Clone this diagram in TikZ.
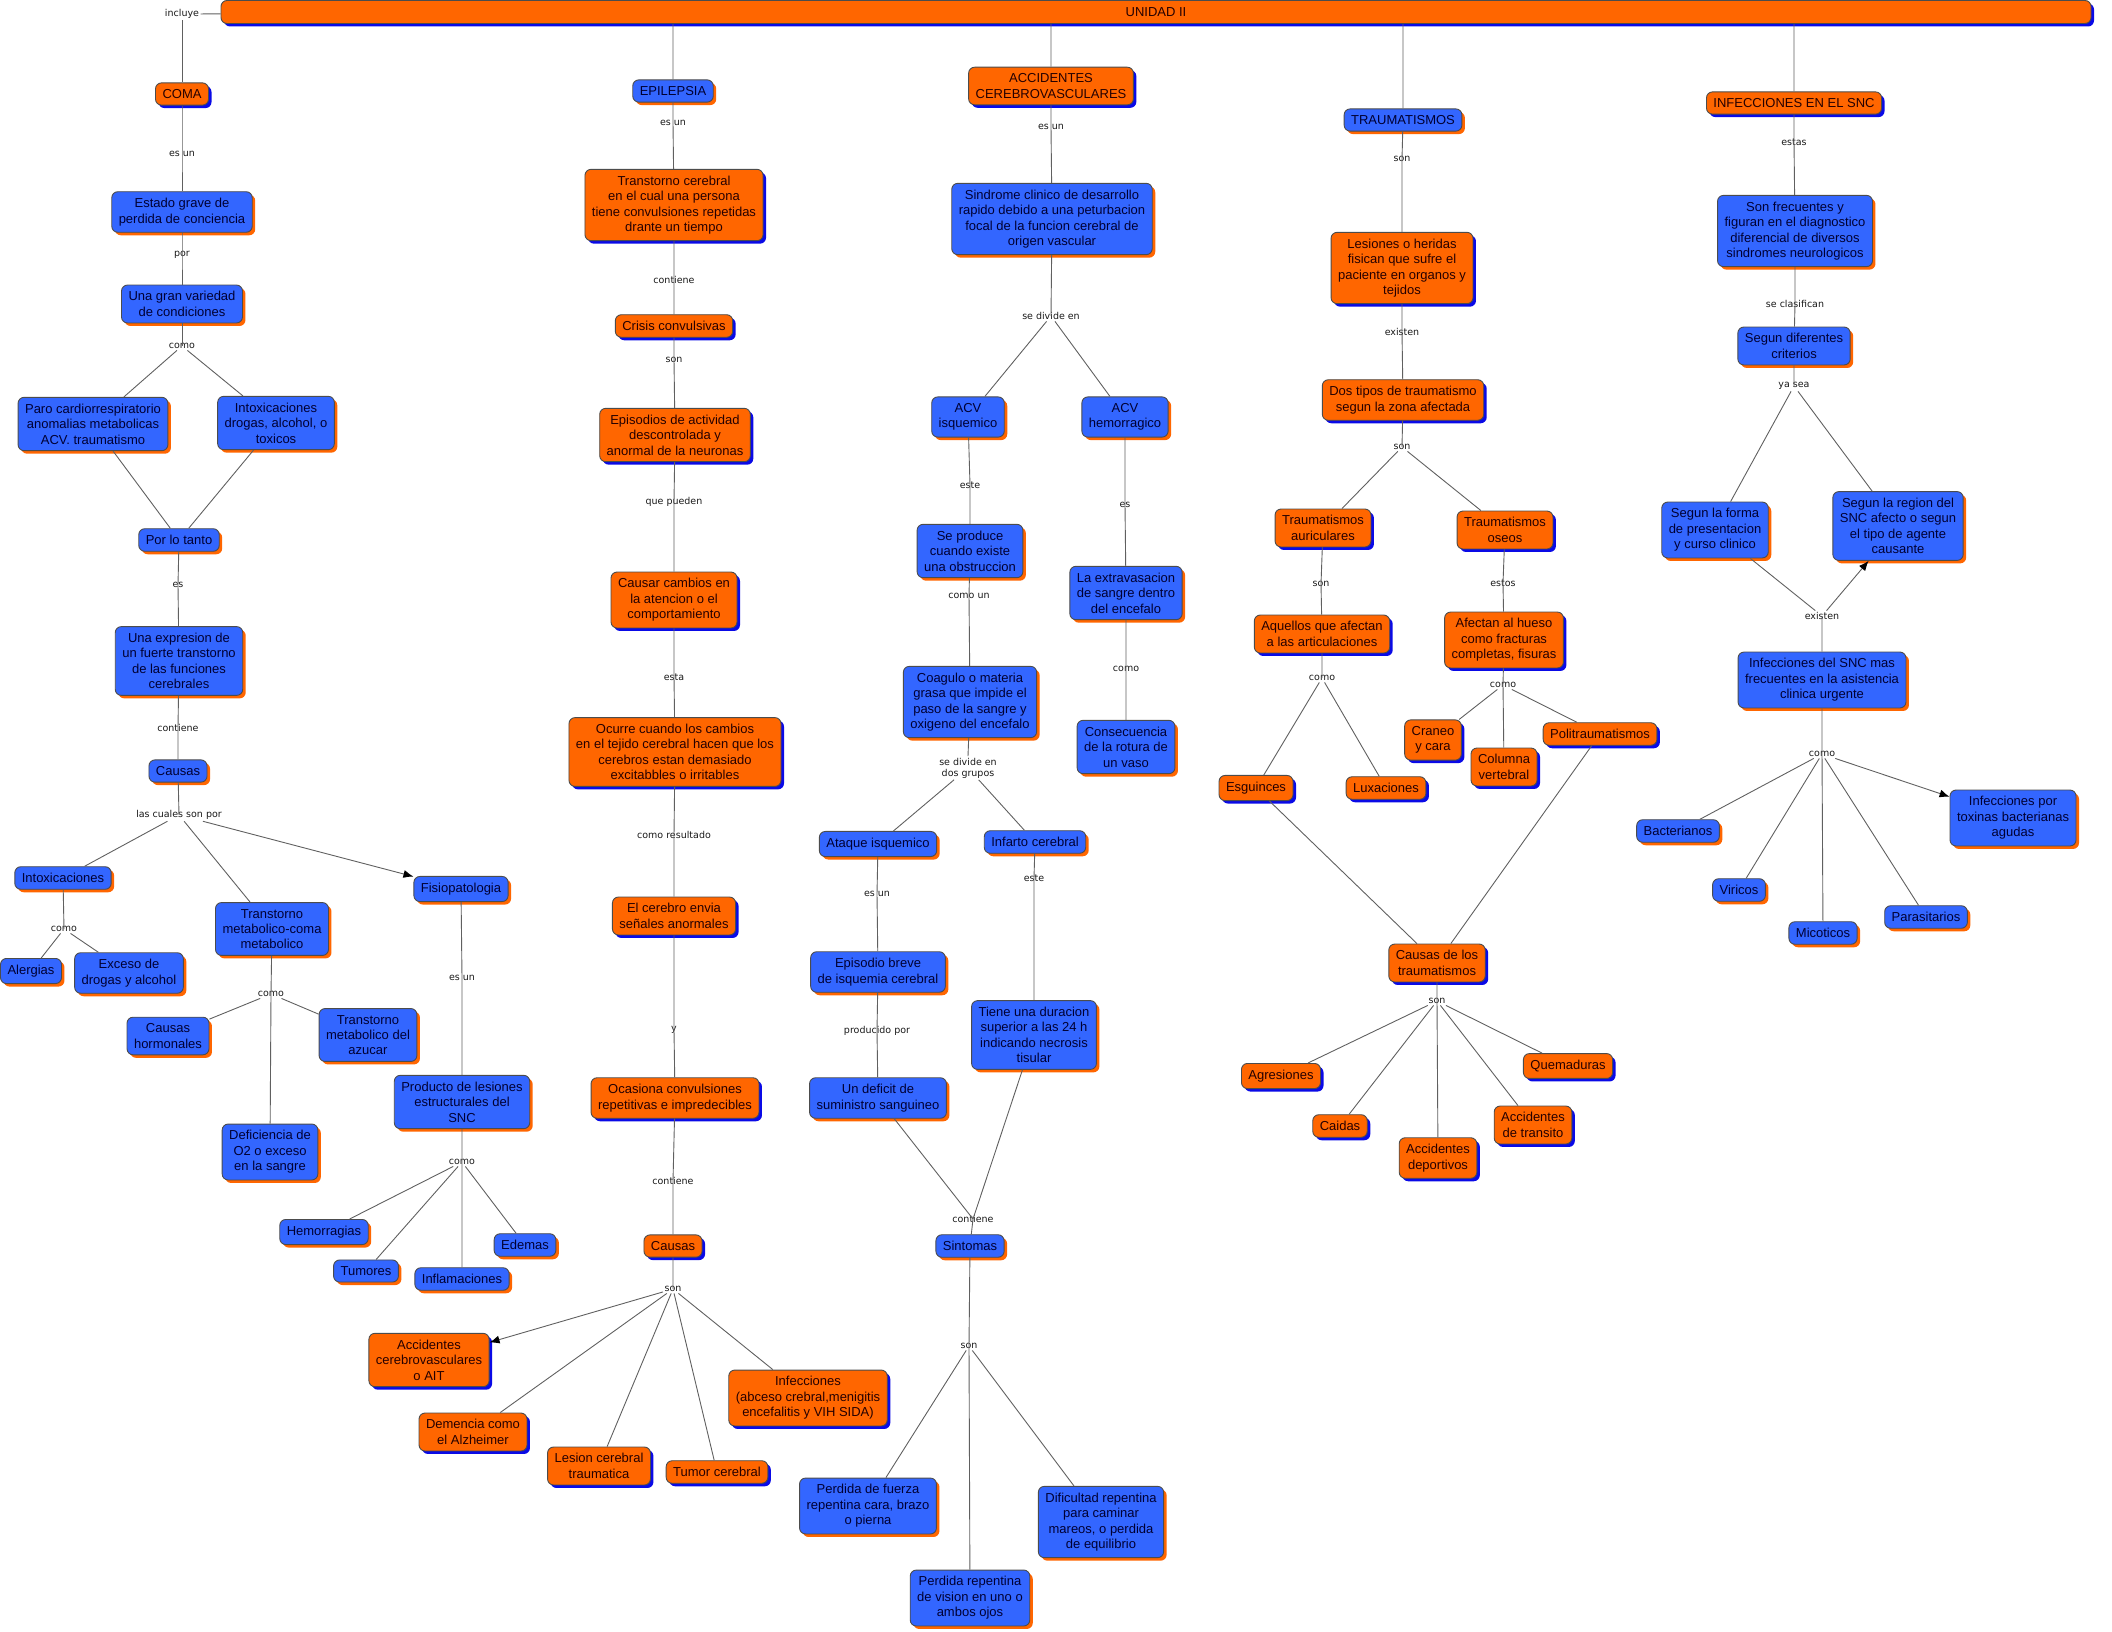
\documentclass[tikz,border=0pt]{standalone}
\usepackage{fontspec}
\setmainfont{Liberation Sans}
\newfontfamily\enlacefont{DejaVu Sans}
\usetikzlibrary{shadows,arrows.meta}
\definecolor{naranja}{HTML}{FF6600}
\definecolor{azul}{HTML}{3366FF}
\definecolor{azulsombra}{HTML}{0A0AE6}
\definecolor{linea}{HTML}{606060}

\begin{document}
\begin{tikzpicture}[x=1pt,y=-1pt,
    concepto/.style={rectangle, rounded corners=6pt, draw=black!70, line width=0.9pt,
      align=center, inner xsep=7pt, inner ysep=6.5pt, font=\fontsize{13}{15.4}\selectfont},
    cnaranja/.style={concepto, fill=naranja, text=black!85!red,
      drop shadow={shadow xshift=3pt, shadow yshift=-3pt, fill=azulsombra, opacity=1}},
    cazul/.style={concepto, fill=azul, text=black!80!blue,
      drop shadow={shadow xshift=3pt, shadow yshift=-3pt, fill=naranja, opacity=1}},
    enlace/.style={font=\enlacefont\fontsize{9.5}{11}\selectfont, text=black!90, inner sep=1.5pt, align=center},
    conector/.style={draw=linea, line width=0.9pt},
    flecha/.style={conector, -{Latex[length=10pt,width=8pt,color=black]}}]

            \useasboundingbox (0,0) rectangle (2112,1632);

            % Barra principal
            \node[cnaranja, minimum width=1870pt, minimum height=23pt, inner ysep=4pt] (bar) at (1156,12) {UNIDAD II};
            \node[enlace] (lincluye) at (182,14) {incluye};

            % Columna COMA
            \node[cnaranja] (coma) at (182,94) {COMA};
            \node[enlace] (lesun1) at (182,154) {es un};
            \node[cazul] (estado) at (182,212) {Estado grave de\\perdida de conciencia};
            \node[enlace] (lpor) at (182,255) {por};
            \node[cazul] (variedad) at (182,304) {Una gran variedad\\de condiciones};
            \node[enlace] (lcomo1) at (182,346) {como};
            \node[cazul] (paro) at (93,424) {Paro cardiorrespiratorio\\anomalias metabolicas\\ACV. traumatismo};
            \node[cazul] (intoxdrog) at (276,423) {Intoxicaciones\\drogas, alcohol, o\\toxicos};
            \node[cazul] (portanto) at (179,540) {Por lo tanto};
            \node[enlace] (les1) at (178,585) {es};
            \node[cazul] (expresion) at (179,661) {Una expresion de\\un fuerte transtorno\\de las funciones\\cerebrales};
            \node[enlace] (lcontiene1) at (178,728) {contiene};
            \node[cazul] (causasc) at (178,771) {Causas};
            \node[enlace] (lcuales) at (179,815) {las cuales son por};
            \node[cazul] (intox) at (63,878) {Intoxicaciones};
            \node[cazul] (tmc) at (272,929) {Transtorno\\metabolico-coma\\metabolico};
            \node[cazul] (fisio) at (461,889) {Fisiopatologia};
            \node[enlace] (lcomo2) at (64,929) {como};
            \node[cazul] (alergias) at (31,971) {Alergias};
            \node[cazul] (exceso) at (129,973) {Exceso de\\drogas y alcohol};
            \node[enlace] (lcomo3) at (271,994) {como};
            \node[cazul] (hormonales) at (168,1036) {Causas\\hormonales};
            \node[cazul] (azucar) at (368,1035) {Transtorno\\metabolico del\\azucar};
            \node[cazul] (deficiencia) at (270,1152) {Deficiencia de\\O2 o exceso\\en la sangre};
            \node[enlace] (lesun2) at (462,978) {es un};
            \node[cazul] (producto) at (462,1102) {Producto de lesiones\\estructurales del\\SNC};
            \node[enlace] (lcomo4) at (462,1162) {como};
            \node[cazul] (hemorragias) at (324,1232) {Hemorragias};
            \node[cazul] (tumores) at (366,1271) {Tumores};
            \node[cazul] (inflamaciones) at (462,1279) {Inflamaciones};
            \node[cazul] (edemas) at (525,1245) {Edemas};

            \draw[conector] (lincluye) -- (bar);
            \draw[conector] (lincluye) -- (coma) -- (lesun1.center) -- (estado) -- (lpor.center) -- (variedad) -- (lcomo1.center);
            \draw[conector] (lcomo1) -- (paro);
            \draw[conector] (lcomo1) -- (intoxdrog);
            \draw[conector] (paro) -- (portanto);
            \draw[conector] (intoxdrog) -- (portanto);
            \draw[conector] (portanto) -- (les1.center) -- (expresion) -- (lcontiene1.center) -- (causasc) -- (lcuales.center);
            \draw[conector] (lcuales) -- (intox);
            \draw[conector] (lcuales) -- (tmc);
            \draw[flecha] (lcuales) -- (fisio);
            \draw[conector] (intox) -- (lcomo2.center);
            \draw[conector] (lcomo2) -- (alergias);
            \draw[conector] (lcomo2) -- (exceso);
            \draw[conector] (tmc) -- (lcomo3.center) -- (deficiencia);
            \draw[conector] (lcomo3) -- (hormonales);
            \draw[conector] (lcomo3) -- (azucar);
            \draw[conector] (fisio) -- (lesun2.center) -- (producto) -- (lcomo4.center) -- (inflamaciones);
            \draw[conector] (lcomo4) -- (hemorragias);
            \draw[conector] (lcomo4) -- (tumores);
            \draw[conector] (lcomo4) -- (edemas);

            % Columna EPILEPSIA
            \node[cazul] (epi) at (673,91) {EPILEPSIA};
            \node[enlace] (lesun3) at (673,123) {es un};
            \node[cnaranja] (transtorno) at (674,205) {Transtorno cerebral\\en el cual una persona\\tiene convulsiones repetidas\\drante un tiempo};
            \node[enlace] (lcontiene2) at (674,280) {contiene};
            \node[cnaranja] (crisis) at (674,326) {Crisis convulsivas};
            \node[enlace] (lson1) at (674,360) {son};
            \node[cnaranja] (episodios) at (675,435) {Episodios de actividad\\descontrolada y\\anormal de la neuronas};
            \node[enlace] (lpueden) at (674,502) {que pueden};
            \node[cnaranja] (causar) at (674,600) {Causar cambios en\\la atencion o el\\comportamiento};
            \node[enlace] (lesta) at (674,677) {esta};
            \node[cnaranja] (ocurre) at (675,752) {Ocurre cuando los cambios\\en el tejido cerebral hacen que los\\cerebros estan demasiado\\excitabbles o irritables};
            \node[enlace] (lresultado) at (674,835) {como resultado};
            \node[cnaranja] (envia) at (674,916) {El cerebro envia\\señales anormales};
            \node[enlace] (ly) at (674,1030) {y};
            \node[cnaranja] (ocasiona) at (675,1098) {Ocasiona convulsiones\\repetitivas e impredecibles};
            \node[enlace] (lcontiene3) at (673,1181) {contiene};
            \node[cnaranja] (causase) at (673,1246) {Causas};
            \node[enlace] (lson2) at (673,1289) {son};
            \node[cnaranja] (accait) at (429,1360) {Accidentes\\cerebrovasculares\\o AIT};
            \node[cnaranja] (demencia) at (473,1432) {Demencia como\\el Alzheimer};
            \node[cnaranja] (lesion) at (599,1466) {Lesion cerebral\\traumatica};
            \node[cnaranja] (tumor) at (717,1472) {Tumor cerebral};
            \node[cnaranja] (infecc) at (808,1398) {Infecciones\\(abceso crebral,menigitis\\encefalitis y VIH SIDA)};

            \draw[conector] (epi |- bar.south) -- (epi) -- (lesun3.center) -- (transtorno) -- (lcontiene2.center) -- (crisis) -- (lson1.center) -- (episodios) -- (lpueden.center) -- (causar) -- (lesta.center) -- (ocurre) -- (lresultado.center) -- (envia) -- (ly.center) -- (ocasiona) -- (lcontiene3.center) -- (causase) -- (lson2.center);
            \draw[flecha] (lson2) -- (accait);
            \draw[conector] (lson2) -- (demencia);
            \draw[conector] (lson2) -- (lesion);
            \draw[conector] (lson2) -- (tumor);
            \draw[conector] (lson2) -- (infecc);

            % Columna ACCIDENTES CEREBROVASCULARES
            \node[cnaranja] (acv) at (1051,86) {ACCIDENTES\\CEREBROVASCULARES};
            \node[enlace] (lesun4) at (1051,127) {es un};
            \node[cazul] (sindrome) at (1052,219) {Sindrome clinico de desarrollo\\rapido debido a una peturbacion\\focal de la funcion cerebral de\\origen vascular};
            \node[enlace] (ldivide1) at (1051,316) {se divide en};
            \node[cazul] (acvisq) at (968,417) {ACV\\isquemico};
            \node[cazul] (acvhem) at (1125,417) {ACV\\hemorragico};
            \node[enlace] (leste1) at (970,485) {este};
            \node[cazul] (produce) at (970,551) {Se produce\\cuando existe\\una obstruccion};
            \node[enlace] (lcomoun) at (969,596) {como un};
            \node[cazul] (coagulo) at (970,702) {Coagulo o materia\\grasa que impide el\\paso de la sangre y\\oxigeno del encefalo};
            \node[enlace] (ldivide2) at (968,768) {se divide en\\dos grupos};
            \node[cazul] (ataque) at (878,844) {Ataque isquemico};
            \node[cazul] (infarto) at (1035,842) {Infarto cerebral};
            \node[enlace] (lesun5) at (877,894) {es un};
            \node[cazul] (episodio) at (878,972) {Episodio breve\\de isquemia cerebral};
            \node[enlace] (lproducido) at (877,1031) {producido por};
            \node[cazul] (deficit) at (878,1098) {Un deficit de\\suministro sanguineo};
            \node[enlace] (leste2) at (1034,878) {este};
            \node[cazul] (duracion) at (1034,1035) {Tiene una duracion\\superior a las 24 h\\indicando necrosis\\tisular};
            \node[enlace] (lcontiene4) at (973,1219) {contiene};
            \node[cazul] (sintomas) at (970,1246) {Sintomas};
            \node[enlace] (lson3) at (969,1346) {son};
            \node[cazul] (fuerza) at (868,1506) {Perdida de fuerza\\repentina cara, brazo\\o pierna};
            \node[cazul] (vision) at (970,1598) {Perdida repentina\\de vision en uno o\\ambos ojos};
            \node[cazul] (dificultad) at (1101,1522) {Dificultad repentina\\para caminar\\mareos, o perdida\\de equilibrio};
            \node[enlace] (les2) at (1125,505) {es};
            \node[cazul] (extrav) at (1126,593) {La extravasacion\\de sangre dentro\\del encefalo};
            \node[enlace] (lcomo5) at (1126,669) {como};
            \node[cazul] (consec) at (1126,747) {Consecuencia\\de la rotura de\\un vaso};

            \draw[conector] (acv |- bar.south) -- (acv) -- (lesun4.center) -- (sindrome) -- (ldivide1.center);
            \draw[conector] (ldivide1) -- (acvisq);
            \draw[conector] (ldivide1) -- (acvhem);
            \draw[conector] (acvisq) -- (leste1.center) -- (produce) -- (lcomoun.center) -- (coagulo) -- (ldivide2.north);
            \draw[conector] (ldivide2) -- (ataque);
            \draw[conector] (ldivide2) -- (infarto);
            \draw[conector] (ataque) -- (lesun5.center) -- (episodio) -- (lproducido.center) -- (deficit);
            \draw[conector] (infarto) -- (leste2.center) -- (duracion);
            \draw[conector] (deficit) -- (lcontiene4.center);
            \draw[conector] (duracion) -- (lcontiene4.center);
            \draw[conector] (lcontiene4.center) -- (sintomas);
            \draw[conector] (sintomas) -- (lson3.center) -- (vision);
            \draw[conector] (lson3) -- (fuerza);
            \draw[conector] (lson3) -- (dificultad);
            \draw[conector] (acvhem) -- (les2.center) -- (extrav) -- (lcomo5.center) -- (consec);

            % Columna TRAUMATISMOS
            \node[cazul] (trauma) at (1403,120) {TRAUMATISMOS};
            \node[enlace] (lson4) at (1402,159) {son};
            \node[cnaranja] (lesiones) at (1402,268) {Lesiones o heridas\\fisican que sufre el\\paciente en organos y\\tejidos};
            \node[enlace] (lexisten1) at (1402,332) {existen};
            \node[cnaranja] (dostipos) at (1403,400) {Dos tipos de traumatismo\\segun la zona afectada};
            \node[enlace] (lson5) at (1402,447) {son};
            \node[cnaranja] (auric) at (1323,528) {Traumatismos\\auriculares};
            \node[cnaranja] (oseos) at (1505,530) {Traumatismos\\oseos};
            \node[enlace] (lson6) at (1321,584) {son};
            \node[cnaranja] (aquellos) at (1322,634) {Aquellos que afectan\\a las articulaciones};
            \node[enlace] (lestos) at (1503,583) {estos};
            \node[cnaranja] (hueso) at (1504,640) {Afectan al hueso\\como fracturas\\completas, fisuras};
            \node[enlace] (lcomo6) at (1322,678) {como};
            \node[cnaranja] (esguinces) at (1256,788) {Esguinces};
            \node[cnaranja] (luxaciones) at (1386,788) {Luxaciones};
            \node[enlace] (lcomo7) at (1503,685) {como};
            \node[cnaranja] (craneo) at (1433,740) {Craneo\\y cara};
            \node[cnaranja] (columna) at (1504,767) {Columna\\vertebral};
            \node[cnaranja] (politrauma) at (1600,734) {Politraumatismos};
            \node[cnaranja] (causastr) at (1437,963) {Causas de los\\traumatismos};
            \node[enlace] (lson7) at (1437,1001) {son};
            \node[cnaranja] (agresiones) at (1281,1076) {Agresiones};
            \node[cnaranja] (caidas) at (1340,1126) {Caidas};
            \node[cnaranja] (deportivos) at (1438,1158) {Accidentes\\deportivos};
            \node[cnaranja] (transito) at (1533,1125) {Accidentes\\de transito};
            \node[cnaranja] (quemaduras) at (1568,1066) {Quemaduras};

            \draw[conector] (trauma |- bar.south) -- (trauma) -- (lson4.center) -- (lesiones) -- (lexisten1.center) -- (dostipos) -- (lson5.center);
            \draw[conector] (lson5) -- (auric);
            \draw[conector] (lson5) -- (oseos);
            \draw[conector] (auric) -- (lson6.center) -- (aquellos) -- (lcomo6.center);
            \draw[conector] (lcomo6) -- (esguinces);
            \draw[conector] (lcomo6) -- (luxaciones);
            \draw[conector] (oseos) -- (lestos.center) -- (hueso) -- (lcomo7.center) -- (columna);
            \draw[conector] (lcomo7) -- (craneo);
            \draw[conector] (lcomo7) -- (politrauma);
            \draw[conector] (esguinces) -- (causastr);
            \draw[conector] (politrauma) -- (causastr);
            \draw[conector] (causastr) -- (lson7.center) -- (deportivos);
            \draw[conector] (lson7) -- (agresiones);
            \draw[conector] (lson7) -- (caidas);
            \draw[conector] (lson7) -- (transito);
            \draw[conector] (lson7) -- (quemaduras);

            % Columna INFECCIONES EN EL SNC
            \node[cnaranja] (infsnc) at (1794,103) {INFECCIONES EN EL SNC};
            \node[enlace] (lestas) at (1794,142) {estas};
            \node[cazul] (frecuentes) at (1795,231) {Son frecuentes y\\figuran en el diagnostico\\diferencial de diversos\\sindromes neurologicos};
            \node[enlace] (lclasifican) at (1795,304) {se clasifican};
            \node[cazul] (criterios) at (1794,346) {Segun diferentes\\criterios};
            \node[enlace] (lyasea) at (1794,386) {ya sea};
            \node[cazul] (forma) at (1715,530) {Segun la forma\\de presentacion\\y curso clinico};
            \node[cazul] (region) at (1898,526) {Segun la region del\\SNC afecto o segun\\el tipo de agente\\causante};
            \node[enlace] (lexisten2) at (1822,616) {existen};
            \node[cazul] (infmas) at (1822,680) {Infecciones del SNC mas\\frecuentes en la asistencia\\clinica urgente};
            \node[enlace] (lcomo8) at (1822,754) {como};
            \node[cazul] (bacterianos) at (1678,831) {Bacterianos};
            \node[cazul] (viricos) at (1739,890) {Viricos};
            \node[cazul] (micoticos) at (1823,933) {Micoticos};
            \node[cazul] (parasitarios) at (1926,917) {Parasitarios};
            \node[cazul] (toxinas) at (2013,818) {Infecciones por\\toxinas bacterianas\\agudas};

            \draw[conector] (infsnc |- bar.south) -- (infsnc) -- (lestas.center) -- (frecuentes) -- (lclasifican.center) -- (criterios) -- (lyasea.center);
            \draw[conector] (lyasea) -- (forma);
            \draw[conector] (lyasea) -- (region);
            \draw[conector] (forma) -- (lexisten2);
            \draw[flecha] (lexisten2) -- (region);
            \draw[conector] (lexisten2.center) -- (infmas) -- (lcomo8.center) -- (micoticos);
            \draw[conector] (lcomo8) -- (bacterianos);
            \draw[conector] (lcomo8) -- (viricos);
            \draw[conector] (lcomo8) -- (parasitarios);
            \draw[flecha] (lcomo8) -- (toxinas);

            \end{tikzpicture}
\end{document}
